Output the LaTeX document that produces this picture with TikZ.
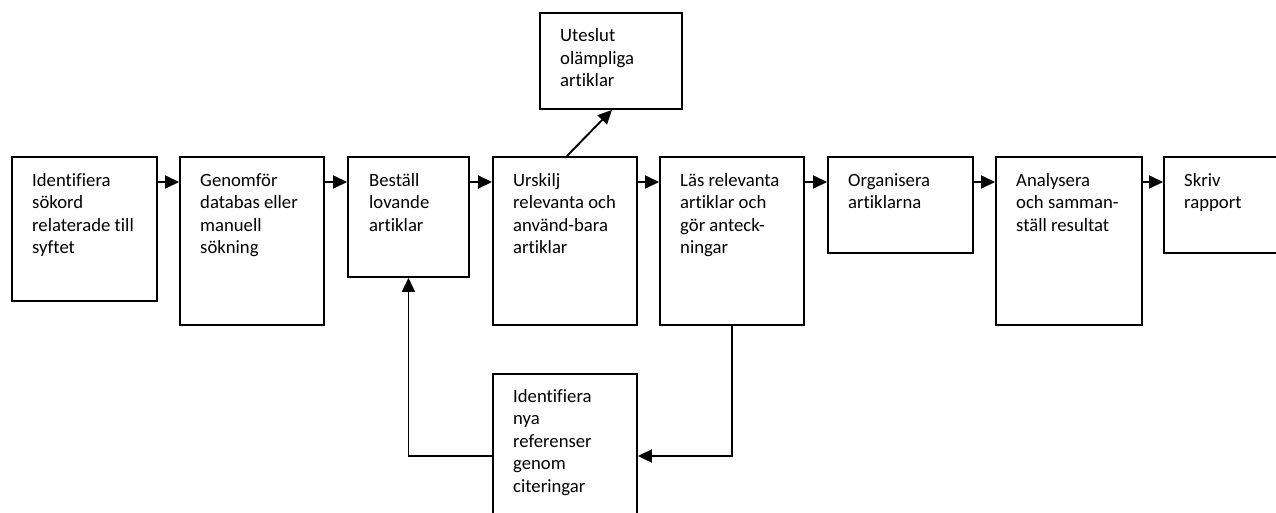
\documentclass[tikz,border=0pt]{standalone}
\usepackage{fontspec}
\setmainfont{Carlito}[RawFeature={-liga;-clig;-dlig}]
\usetikzlibrary{arrows.meta,calc}
\newcommand{\boxlines}[1]{\vtop{\baselineskip=22.5pt\lineskiplimit=-20pt\halign{##\hfil\cr#1\crcr}}}
\tikzset{
  stepbox/.style={draw=black, line width=1.9pt, rectangle, inner sep=0pt, anchor=north west},
  steptext/.style={inner sep=0pt, anchor=base west, font=\fontsize{18.7}{22.5}\selectfont},
  arr/.style={line width=1.9pt, -{Triangle[length=14pt,width=13pt]}},
}
\begin{document}
\begin{tikzpicture}[x=1pt,y=-1pt]
\useasboundingbox (0,0) rectangle (1276,513);
\clip (0,0) rectangle (1276,513);
\fill[white] (0,0) rectangle (1276,513);
% boxes
\node[stepbox, minimum width=145pt, minimum height=144pt] (b1) at (11,156) {};
\node[stepbox, minimum width=144pt, minimum height=168pt] (b2) at (179,156) {};
\node[stepbox, minimum width=121pt, minimum height=120pt] (b3) at (347,156) {};
\node[stepbox, minimum width=144pt, minimum height=168pt] (b4) at (492,156) {};
\node[stepbox, minimum width=144pt, minimum height=168pt] (b5) at (659,156) {};
\node[stepbox, minimum width=145pt, minimum height=96pt] (b6) at (827,156) {};
\node[stepbox, minimum width=146pt, minimum height=168pt] (b7) at (995,156) {};
\node[stepbox, minimum width=146pt, minimum height=96pt] (b8) at (1163,156) {};
\node[stepbox, minimum width=142pt, minimum height=96pt] (u) at (539,12) {};
\node[stepbox, minimum width=144pt, minimum height=170pt] (n) at (492,373) {};
% texts
\node[steptext] (t1) at ($(b1.north west)+(21,30)$) {\boxlines{Identifiera\cr sökord\cr relaterade till\cr syftet}};
\node[steptext] (t2) at ($(b2.north west)+(21,30)$) {\boxlines{Genomför\cr databas eller\cr manuell\cr sökning}};
\node[steptext] (t3) at ($(b3.north west)+(22,30)$) {\boxlines{Beställ\cr lovande\cr artiklar}};
\node[steptext] (t4) at ($(b4.north west)+(21,30)$) {\boxlines{Urskilj\cr relevanta och\cr använd-bara\cr artiklar}};
\node[steptext] (t5) at ($(b5.north west)+(21,30)$) {\boxlines{Läs relevanta\cr artiklar och\cr gör anteck-\cr ningar}};
\node[steptext] (t6) at ($(b6.north west)+(21,30)$) {\boxlines{Organisera\cr artiklarna}};
\node[steptext] (t7) at ($(b7.north west)+(21,30)$) {\boxlines{Analysera\cr och samman-\cr ställ resultat}};
\node[steptext] (t8) at ($(b8.north west)+(21,30)$) {\boxlines{Skriv\cr rapport}};
\node[steptext] (tu) at ($(u.north west)+(21,30)$) {\boxlines{Uteslut\cr olämpliga\cr artiklar}};
\node[steptext] (tn) at ($(n.north west)+(21,29)$) {\boxlines{Identifiera\cr nya\cr referenser\cr genom\cr citeringar}};
% connectors
\coordinate (row) at (0,182);
\coordinate (fb) at (0,456);
\draw[arr] (b1.east |- row) -- (b2.west |- row);
\draw[arr] (b2.east |- row) -- (b3.west |- row);
\draw[arr] (b3.east |- row) -- (b4.west |- row);
\draw[arr] (b4.east |- row) -- (b5.west |- row);
\draw[arr] (b5.east |- row) -- (b6.west |- row);
\draw[arr] (b6.east |- row) -- (b7.west |- row);
\draw[arr] (b7.east |- row) -- (b8.west |- row);
\draw[arr] ($(b4.north)+(2,0)$) -- ($(u.south)+(1,0)$);
\draw[arr] (b5.south) |- (n.east |- fb);
\draw[arr] (n.west |- fb) -| (b3.south);
\end{tikzpicture}
\end{document}
